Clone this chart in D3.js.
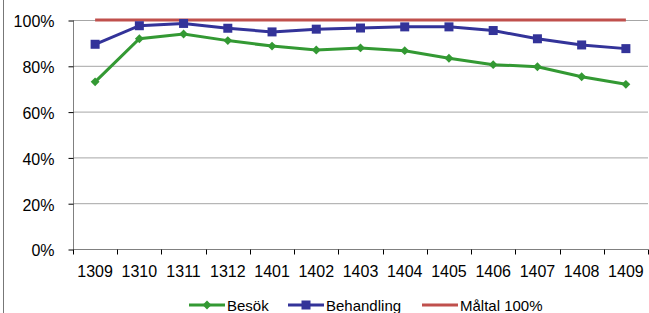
<!DOCTYPE html>
<html>
<head>
<meta charset="utf-8">
<script src="https://cdn.jsdelivr.net/npm/d3@7"></script>
<style>
body { margin: 0; background: #fff; }
svg text { font-family: "Liberation Sans", Arial, sans-serif; fill: #000; }
</style>
</head>
<body>
<script>
var Width = 649;
var Height = 313;

var months = ["1309", "1310", "1311", "1312", "1401", "1402", "1403", "1404", "1405", "1406", "1407", "1408", "1409"];
var besok = [73, 91.8, 93.9, 91, 88.6, 86.9, 87.8, 86.6, 83.3, 80.5, 79.6, 75.2, 71.9];
var behandling = [89.4, 97.5, 98.5, 96.4, 94.8, 96, 96.5, 97, 97, 95.4, 91.8, 89.1, 87.5];
var maltal = [100, 100, 100, 100, 100, 100, 100, 100, 100, 100, 100, 100, 100];
var yTicks = [0, 20, 40, 60, 80, 100];

var svg = d3.select("body").append("svg")
	.attr("width", Width)
	.attr("height", Height);

// chart border (left edge visible)
svg.append("line")
	.attr("x1", 3.5).attr("x2", 3.5)
	.attr("y1", 0).attr("y2", Height)
	.attr("stroke", "#777").attr("stroke-width", 1);

var pLeft = 73, pRight = 648, pTop = 20, pBottom = 249;

var x = d3.scaleBand().domain(months).range([pLeft, pRight]);
var y = d3.scaleLinear().domain([0, 100]).range([pBottom, pTop]);

// gridlines
svg.append("g")
	.selectAll("line")
	.data(yTicks.filter(function (d) { return d > 0; }))
	.enter()
	.append("line")
	.attr("x1", pLeft).attr("x2", pRight)
	.attr("y1", function (d) { return y(d) + 0.5; })
	.attr("y2", function (d) { return y(d) + 0.5; })
	.attr("stroke", "#a6a6a6");

var yAxis = svg.append("g")
	.attr("transform", "translate(" + (pLeft + 0.5) + ",0.5)")
	.call(d3.axisLeft(y).tickValues(yTicks).tickSize(5).tickPadding(14)
		.tickFormat(function (d) { return d + "%"; }));
yAxis.select(".domain").attr("stroke", "#808080").attr("d", "M0," + pTop + "V" + pBottom);
yAxis.selectAll(".tick line").attr("stroke", "#000");
yAxis.selectAll(".tick text")
	.attr("font-size", 16)
	.attr("font-family", null)
	.attr("dy", "0.4em");

var xAxis = svg.append("g")
	.attr("transform", "translate(0," + (pBottom + 0.5) + ")");
xAxis.append("line")
	.attr("x1", pLeft).attr("x2", pRight)
	.attr("stroke", "#808080");
xAxis.selectAll("line.tk")
	.data(months.concat(["end"]))
	.enter()
	.append("line")
	.attr("class", "tk")
	.attr("x1", function (d, i) { return Math.round(pLeft + i * x.bandwidth()) + 0.5; })
	.attr("x2", function (d, i) { return Math.round(pLeft + i * x.bandwidth()) + 0.5; })
	.attr("y1", 0).attr("y2", 5)
	.attr("stroke", "#000");
xAxis.selectAll("text")
	.data(months)
	.enter()
	.append("text")
	.attr("x", function (d) { return x(d) + x.bandwidth() / 2; })
	.attr("y", 27)
	.attr("font-size", 16)
	.attr("text-anchor", "middle")
	.text(function (d) { return d; });

function cx(d, i) { return x(months[i]) + x.bandwidth() / 2; }

var line = d3.line()
	.x(function (d, i) { return cx(d, i); })
	.y(function (d) { return y(d); });

svg.append("path")
	.datum(maltal)
	.attr("fill", "none")
	.attr("stroke", "#c0504d")
	.attr("stroke-width", 3)
	.attr("d", line);

svg.append("path")
	.datum(behandling)
	.attr("fill", "none")
	.attr("stroke", "#333399")
	.attr("stroke-width", 3)
	.attr("d", line);

svg.append("g")
	.selectAll("rect")
	.data(behandling)
	.enter()
	.append("rect")
	.attr("x", function (d, i) { return cx(d, i) - 4.5; })
	.attr("y", function (d) { return y(d) - 4.5; })
	.attr("width", 9).attr("height", 9)
	.attr("fill", "#333399");

svg.append("path")
	.datum(besok)
	.attr("fill", "none")
	.attr("stroke", "#339933")
	.attr("stroke-width", 3)
	.attr("d", line);

var diamond = d3.symbol().type(d3.symbolDiamond2).size(50);
svg.append("g")
	.selectAll("path")
	.data(besok)
	.enter()
	.append("path")
	.attr("transform", function (d, i) { return "translate(" + cx(d, i) + "," + y(d) + ")"; })
	.attr("d", diamond)
	.attr("fill", "#339933");

// legend
var legend = [
	{ name: "Besök", color: "#339933", marker: "diamond", x: 189 },
	{ name: "Behandling", color: "#333399", marker: "square", x: 288 },
	{ name: "Måltal 100%", color: "#c0504d", marker: null, x: 422 }
];
var lg = svg.append("g").selectAll("g")
	.data(legend)
	.enter()
	.append("g")
	.attr("transform", function (d) { return "translate(" + d.x + ",305)"; });
lg.append("line")
	.attr("x1", 0).attr("x2", 36)
	.attr("stroke", function (d) { return d.color; })
	.attr("stroke-width", 3);
lg.filter(function (d) { return d.marker === "square"; })
	.append("rect")
	.attr("x", 13.5).attr("y", -4.5).attr("width", 9).attr("height", 9)
	.attr("fill", function (d) { return d.color; });
lg.filter(function (d) { return d.marker === "diamond"; })
	.append("path")
	.attr("transform", "translate(18,0)")
	.attr("d", diamond)
	.attr("fill", function (d) { return d.color; });
lg.append("text")
	.attr("x", 38)
	.attr("y", 5.5)
	.attr("font-size", 15)
	.text(function (d) { return d.name; });
</script>
</body>
</html>
